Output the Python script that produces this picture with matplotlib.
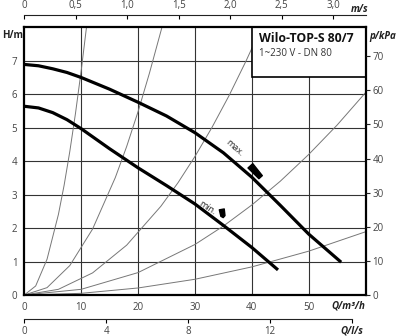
import matplotlib
matplotlib.use("Agg")
import matplotlib.pyplot as plt
from matplotlib.patches import Rectangle
from matplotlib.markers import MarkerStyle
from matplotlib.path import Path
from matplotlib.transforms import Affine2D

plt.rcParams['font.family'] = ['Open Sans', 'DejaVu Sans']

# pump curves (Q in m3/h, H in m)
q_max = [0, 2.5, 5, 7.5, 10, 15, 20, 25, 30, 35, 40, 45, 50, 55.7]
h_max = [6.89, 6.85, 6.76, 6.65, 6.50, 6.15, 5.76, 5.35, 4.85, 4.25, 3.52, 2.68, 1.82, 0.98]
q_min = [0, 2.5, 5, 7.5, 10, 15, 20, 25, 30, 35, 40, 44.6]
h_min = [5.64, 5.59, 5.45, 5.24, 4.97, 4.37, 3.80, 3.27, 2.72, 2.08, 1.42, 0.75]

# system resistance curves
sys_curves = [
    ([0, 2, 4, 6, 7, 8, 9, 10, 10.93], [0, 0.27, 1.07, 2.41, 3.28, 4.29, 5.43, 6.70, 8.0]),
    ([0, 4, 8, 12, 16, 18, 20, 22, 24.2], [0, 0.22, 0.88, 1.97, 3.51, 4.44, 5.48, 6.63, 8.0]),
    ([0, 6, 12, 18, 24, 27, 30, 33, 36, 39, 41.7], [0, 0.17, 0.66, 1.49, 2.65, 3.35, 4.14, 5.01, 5.96, 7.0, 8.0]),
    ([0, 10, 20, 30, 35, 40, 45, 50, 55, 60], [0, 0.17, 0.67, 1.51, 2.06, 2.69, 3.40, 4.20, 5.08, 6.05]),
    ([0, 10, 20, 30, 40, 50, 60], [0, 0.05, 0.21, 0.47, 0.84, 1.31, 1.89]),
]

h_ticks = [0, 1, 2, 3, 4, 5, 6, 7]
q_ticks = [0, 10, 20, 30, 40, 50]
kpa_ticks = [0, 10, 20, 30, 40, 50, 60, 70]
v_ticks = [0, 0.5, 1.0, 1.5, 2.0, 2.5, 3.0]
v_labels = ['0', '0,5', '1,0', '1,5', '2,0', '2,5', '3,0']
ls_ticks = [0, 4, 8, 12, 16]
ls_labels = ['0', '4', '8', '12', 'Q/l/s']

title = 'Wilo-TOP-S 80/7'
subtitle = '1~230 V - DN 80'

Q_MAX, H_MAX = 60, 8
DN = 0.080
AREA = 3.14159265 * DN ** 2 / 4
V_MAX = Q_MAX / 3600 / AREA

grey = '#444444'

fig = plt.figure(figsize=(3.98, 3.36), dpi=100)
ax = fig.add_axes([24.3 / 398, 41 / 336, 341.3 / 398, 267.7 / 336])
ax.set_xlim(0, Q_MAX)
ax.set_ylim(0, H_MAX)

for h in h_ticks[1:]:
    ax.axhline(h, color='#333333', lw=0.8, zorder=1)
for q in q_ticks[1:]:
    ax.axvline(q, color='#333333', lw=0.8, zorder=1)

for qs, hs in sys_curves:
    ax.plot(qs, hs, color='#777777', lw=0.7, zorder=2)

ax.plot(q_max, h_max, color='black', lw=2.3, solid_capstyle='butt', zorder=3)
ax.plot(q_min, h_min, color='black', lw=2.3, solid_capstyle='butt', zorder=3)

# speed stage markers
bar = Path([(-1, -0.42), (1, -0.3), (1, 0.3), (-1, 0.42), (-1, -0.42)],
           [Path.MOVETO, Path.LINETO, Path.LINETO, Path.LINETO, Path.CLOSEPOLY])
shield = Path([(-1, -0.6), (0.6, -0.5), (1, 0), (0.6, 0.5), (-1, 0.6), (-1, -0.6)],
              [Path.MOVETO, Path.LINETO, Path.LINETO, Path.LINETO, Path.LINETO, Path.CLOSEPOLY])
ax.plot([40.6], [3.72], linestyle='none', color='black',
        marker=MarkerStyle(bar, transform=Affine2D().rotate_deg(-48)), markersize=11, zorder=4)
ax.plot([34.7], [2.45], linestyle='none', color='black',
        marker=MarkerStyle(shield, transform=Affine2D().rotate_deg(-80)), markersize=6, zorder=4)
ax.text(37.0, 4.38, 'max.', rotation=-42, ha='center', va='center', fontsize=6.5, color='#222222', zorder=4)
ax.text(32.2, 2.6, 'min.', rotation=-33, ha='center', va='center', fontsize=6.5, color='#222222', zorder=4)

# type box
ax.add_patch(Rectangle((40, 6.5), 20, 1.5, facecolor='white', edgecolor='black', lw=1.2, zorder=5))
ax.text(41.2, 7.66, title, fontsize=8.8, fontweight='bold', color='#111111', va='center', zorder=6)
ax.text(41.2, 7.22, subtitle, fontsize=7, color='#333333', va='center', zorder=6)

for s in ax.spines.values():
    s.set_linewidth(1.6)
    s.set_zorder(7)

ax.set_xticks(q_ticks)
ax.set_yticks(h_ticks)
ax.tick_params(length=0, labelsize=7, labelcolor=grey, pad=5)
ax.text(-0.065, 0.97, 'H/m', transform=ax.transAxes, fontsize=7, fontweight='bold',
        color='#222222', ha='left', va='center')
ax.text(1.0, -0.022, 'Q/m³/h', transform=ax.transAxes, fontsize=7, fontweight='bold',
        fontstyle='italic', color='#222222', ha='right', va='top')

# pressure scale on the right
axp = ax.twinx()
axp.set_ylim(0, H_MAX * 9.81)
axp.set_yticks(kpa_ticks)
axp.tick_params(direction='out', length=3, width=0.8, labelsize=7, labelcolor=grey, color='#222222', pad=2)
for s in axp.spines.values():
    s.set_visible(False)
axp.text(1.01, 0.985, 'p/kPa', transform=ax.transAxes, fontsize=7, fontweight='bold',
         fontstyle='italic', color='#222222', ha='left', va='top')

# velocity scale on top
axv = fig.add_axes([24.3 / 398, (336 - 15) / 336, 341.3 / 398, 0.0001])
axv.set_xlim(0, V_MAX)
axv.set_ylim(0, 1)
axv.set_xticks(v_ticks)
axv.set_xticklabels(v_labels)
axv.set_yticks([])
for k in ['left', 'right', 'bottom']:
    axv.spines[k].set_visible(False)
axv.spines['top'].set_color('#222222')
axv.spines['top'].set_linewidth(0.8)
axv.xaxis.set_ticks_position('top')
axv.tick_params(axis='x', direction='in', length=3, width=0.8, labelsize=7, labelcolor=grey, pad=3)
axv.patch.set_visible(False)
axv.text(3.17, 1, 'm/s', transform=axv.get_xaxis_transform(), fontsize=7, fontweight='bold',
         fontstyle='italic', color='#222222', ha='left', va='bottom')

# flow scale in l/s at the bottom
axl = fig.add_axes([24.3 / 398, (336 - 319) / 336, 341.3 / 398, 0.0001])
axl.set_xlim(0, Q_MAX / 3.6)
axl.set_xticks(ls_ticks)
axl.set_xticklabels(ls_labels)
axl.set_yticks([])
for k in ['left', 'right', 'top']:
    axl.spines[k].set_visible(False)
axl.spines['bottom'].set_bounds(0, 16)
axl.spines['bottom'].set_color('#222222')
axl.spines['bottom'].set_linewidth(0.8)
axl.tick_params(axis='x', direction='out', length=3, width=0.8, labelsize=7, labelcolor=grey, pad=2)
unit_label = axl.get_xticklabels()[-1]
unit_label.set_fontweight('bold')
unit_label.set_fontstyle('italic')
unit_label.set_color('#222222')
axl.patch.set_visible(False)

fig.savefig('out.png', dpi=100)
